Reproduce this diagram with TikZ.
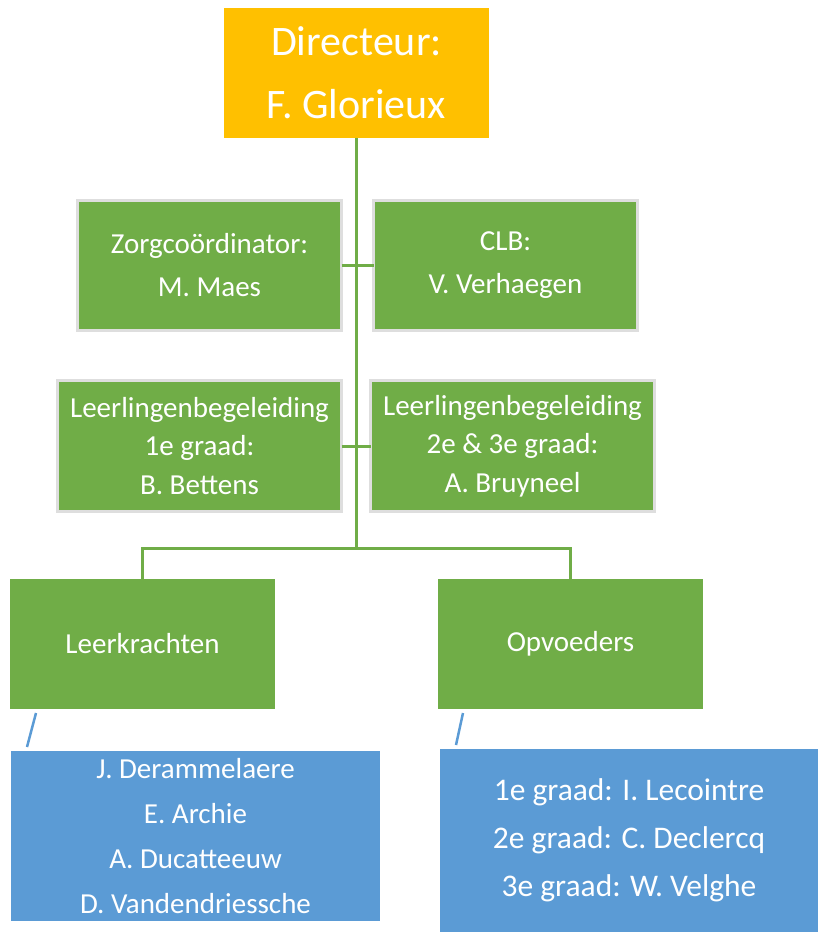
\documentclass[tikz,border=0pt]{standalone}
\usepackage{fontspec}
\setmainfont{Carlito}
\definecolor{gr}{HTML}{70AD47}
\definecolor{orng}{HTML}{FFC000}
\definecolor{bl}{HTML}{5B9BD5}
\definecolor{brd}{RGB}{222,222,222}
\begin{document}
\begin{tikzpicture}[x=1pt,y=-1pt,
  base/.style={rectangle, inner sep=0pt, outer sep=0pt, align=center, text=white},
  topbox/.style={base, fill=orng, minimum width=265, minimum height=130, font={\fontsize{42}{63}\selectfont}},
  gbox/.style={base, fill=gr, draw=brd, line width=3pt, font={\fontsize{29}{43}\selectfont}},
  gbox2/.style={base, fill=gr, draw=brd, line width=3pt, font={\fontsize{29}{38.5}\selectfont}},
  lbox/.style={base, fill=gr, minimum width=265, minimum height=130, font={\fontsize{29}{43}\selectfont}},
  bbox/.style={base, fill=bl, font={\fontsize{29}{45}\selectfont}},
  bbox2/.style={base, fill=bl, font={\fontsize{31.5}{48}\selectfont}},
  gline/.style={draw=gr, line width=3pt},
  bline/.style={draw=bl, line width=2.5pt}]
\useasboundingbox (0,0) rectangle (826,939);
\node[topbox] (dir) at (356.5,73) {Directeur:\\F. Glorieux};
\node[gbox, minimum width=264, minimum height=130] (zorg) at (209.5,265.5) {Zorgcoördinator:\\M. Maes};
\node[gbox, minimum width=264, minimum height=130] (clb) at (505.5,265.5) {CLB:\\V. Verhaegen};
\node[gbox2, minimum width=284, minimum height=131] (lb1) at (199.5,446) {Leerlingenbegeleiding\\1e graad:\\B. Bettens};
\node[gbox2, minimum width=284, minimum height=131] (lb2) at (512.5,446) {Leerlingenbegeleiding\\2e \& 3e graad:\\A. Bruyneel};
\node[lbox] (leer) at (142.5,644) {Leerkrachten};
\node[lbox] (opv) at (570.5,644) {Opvoeders};
\node[bbox, minimum width=369, minimum height=170] (lk) at (195.5,836) {J. Derammelaere\\E. Archie\\A. Ducatteeuw\\D. Vandendriessche};
\node[bbox2, minimum width=378, minimum height=183] (op) at (629,840.5) {1e graad: I. Lecointre\\2e graad: C. Declercq\\3e graad: W. Velghe};
\coordinate (j) at (356,548);
\begin{scope}[on background layer/.try]
\end{scope}
\draw[gline] (dir.south -| j) -- (j);
\draw[gline] (zorg.east) -- (clb.west);
\draw[gline] (lb1.east) -- (lb2.west);
\draw[gline] (j) -| (leer.north);
\draw[gline] (j) -| (opv.north);
\coordinate (a1) at (36,713);
\coordinate (a2) at (27,747);
\coordinate (b1) at (463,713);
\coordinate (b2) at (456,745);
\draw[bline] (a1) -- (a2);
\draw[bline] (b1) -- (b2);
\end{tikzpicture}
\end{document}
